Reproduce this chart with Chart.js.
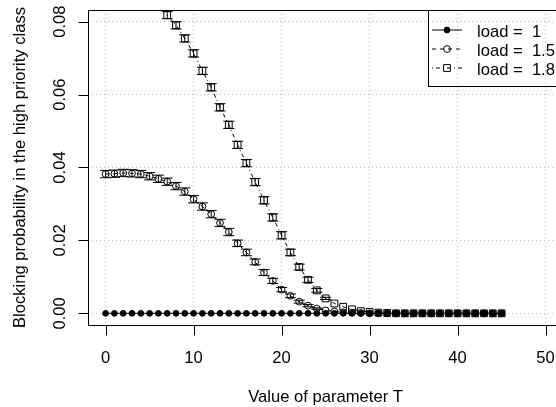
<!DOCTYPE html>
<html>
<head>
<meta charset="utf-8">
<script src="https://cdn.jsdelivr.net/npm/chart.js@4.4.1/dist/chart.umd.min.js"></script>
<style>
  html, body { margin: 0; padding: 0; background: #fff; overflow: hidden; }
  #wrap { width: 556px; height: 407px; overflow: hidden; }
</style>
</head>
<body>
<div id="wrap"><canvas id="chart" width="570" height="407"></canvas></div>
<script>
// values of parameter T
const T = [0, 1, 2, 3, 4, 5, 6, 7, 8, 9, 10, 11, 12, 13, 14, 15, 16, 17, 18, 19, 20, 21, 22,
  23, 24, 25, 26, 27, 28, 29, 30, 31, 32, 33, 34, 35, 36, 37, 38, 39, 40, 41, 42, 43, 44, 45];

// blocking probability, load = 1
const load1 = [0, 0, 0, 0, 0, 0, 0, 0, 0, 0, 0, 0, 0, 0, 0, 0, 0, 0, 0, 0, 0, 0, 0,
  0, 0, 0, 0, 0, 0, 0, 0, 0, 0, 0, 0, 0, 0, 0, 0, 0, 0, 0, 0, 0, 0, 0];

// load = 1.5
const load15 = [0.0382, 0.0383, 0.0385, 0.0384, 0.0382, 0.0376, 0.0369, 0.0361, 0.0349, 0.0334,
  0.0313, 0.0293, 0.0272, 0.0248, 0.0223, 0.0192, 0.0167, 0.0141, 0.0112, 0.0089,
  0.0065, 0.0048, 0.0032, 0.0021, 0.0013, 0.0008, 0.0005, 0.0003, 0.0002, 0.0001,
  0, 0, 0, 0, 0, 0, 0, 0, 0, 0, 0, 0, 0, 0, 0, 0];
const err15 = [0.0010, 0.0010, 0.0010, 0.0010, 0.0010, 0.0010, 0.0010, 0.0010, 0.0010, 0.0010,
  0.0010, 0.0010, 0.0010, 0.0010, 0.0010, 0.0009, 0.0009, 0.0008, 0.0008, 0.0007,
  0.0006, 0.0005, 0.0004, 0.0003, 0.0002, 0, 0, 0, 0, 0,
  0, 0, 0, 0, 0, 0, 0, 0, 0, 0, 0, 0, 0, 0, 0, 0];

// load = 1.8 (values for T < 7 are above the plotted range)
const load18 = [null, null, null, null, null, null, null, 0.0818, 0.0790, 0.0754,
  0.0713, 0.0665, 0.0620, 0.0565, 0.0517, 0.0462, 0.0412, 0.0360, 0.0310, 0.0263,
  0.0214, 0.0167, 0.0127, 0.0092, 0.0063, 0.0041, 0.0027, 0.0018, 0.0011, 0.0006,
  0.0004, 0.0002, 0.0001, 0, 0, 0, 0, 0, 0, 0, 0, 0, 0, 0, 0, 0];
const err18 = [null, null, null, null, null, null, null, 0.0010, 0.0010, 0.0010,
  0.0010, 0.0010, 0.0010, 0.0010, 0.0010, 0.0010, 0.0010, 0.0010, 0.0010, 0.0010,
  0.0010, 0.0009, 0.0008, 0.0007, 0.0005, 0.0003, 0, 0, 0, 0,
  0, 0, 0, 0, 0, 0, 0, 0, 0, 0, 0, 0, 0, 0, 0, 0];

const xTicks = [0, 10, 20, 30, 40, 50];
const yTicks = [0, 0.02, 0.04, 0.06, 0.08];
const seriesNames = ['load =  1', 'load =  1.5', 'load =  1.8'];

const FONT = '16.6px "Liberation Sans", Arial, Helvetica, sans-serif';
const CAP = 5.5; // demi-largeur des barres d'erreur

const pts = arr => T.map((t, i) => ({ x: t, y: arr[i] }));

const styles = [
  { dash: [], pointStyle: 'circle', radius: 2.9, fill: '#000' },
  { dash: [4, 4], pointStyle: 'circle', radius: 3.4, fill: 'rgba(0,0,0,0)' },
  { dash: [1, 3, 4, 3], pointStyle: 'rect', radius: 4.8, fill: 'rgba(0,0,0,0)' }
];

// barres d'erreur, axes a la R, legende
const rPlot = {
  id: 'rPlot',
  afterDatasetsDraw(chart) {
    const ctx = chart.ctx, xs = chart.scales.x, ys = chart.scales.y;
    ctx.save();
    ctx.strokeStyle = '#000';
    ctx.lineWidth = 1;
    [[load15, err15], [load18, err18]].forEach(([vals, errs]) => {
      vals.forEach((v, i) => {
        const e = errs[i];
        if (v == null || !e) return;
        const px = xs.getPixelForValue(T[i]);
        const y1 = ys.getPixelForValue(v - e), y2 = ys.getPixelForValue(v + e);
        ctx.beginPath();
        ctx.moveTo(px, y1); ctx.lineTo(px, y2);
        ctx.moveTo(px - CAP, y1); ctx.lineTo(px + CAP, y1);
        ctx.moveTo(px - CAP, y2); ctx.lineTo(px + CAP, y2);
        ctx.stroke();
      });
    });
    ctx.restore();
  },
  afterDraw(chart) {
    const ctx = chart.ctx, xs = chart.scales.x, ys = chart.scales.y;
    const a = chart.chartArea;
    ctx.save();
    ctx.strokeStyle = '#000';
    ctx.fillStyle = '#000';
    ctx.lineWidth = 1;

    // cadre
    ctx.strokeRect(Math.round(a.left) + 0.5, Math.round(a.top) + 0.5,
      Math.round(a.right - a.left), Math.round(a.bottom - a.top));

    // axe x
    const yb = Math.round(a.bottom) + 0.5;
    ctx.beginPath();
    ctx.moveTo(xs.getPixelForValue(xTicks[0]), yb);
    ctx.lineTo(xs.getPixelForValue(xTicks[xTicks.length - 1]), yb);
    xTicks.forEach(t => {
      const px = Math.round(xs.getPixelForValue(t)) + 0.5;
      ctx.moveTo(px, yb); ctx.lineTo(px, yb + 10);
    });
    ctx.stroke();
    ctx.font = FONT;
    ctx.textAlign = 'center';
    ctx.textBaseline = 'alphabetic';
    xTicks.forEach(t => ctx.fillText(String(t), xs.getPixelForValue(t), 362.6));
    ctx.fillText('Value of parameter T', (a.left + a.right) / 2, 401.5);

    // axe y
    const xl = Math.round(a.left) + 0.5;
    ctx.beginPath();
    ctx.moveTo(xl, ys.getPixelForValue(yTicks[0]));
    ctx.lineTo(xl, ys.getPixelForValue(yTicks[yTicks.length - 1]));
    yTicks.forEach(v => {
      const py = Math.round(ys.getPixelForValue(v)) + 0.5;
      ctx.moveTo(xl, py); ctx.lineTo(xl - 10, py);
    });
    ctx.stroke();
    yTicks.forEach(v => {
      ctx.save();
      ctx.translate(65, ys.getPixelForValue(v));
      ctx.rotate(-Math.PI / 2);
      ctx.fillText(v.toFixed(2), 0, 0);
      ctx.restore();
    });
    ctx.save();
    ctx.translate(24.5, (a.top + a.bottom) / 2);
    ctx.rotate(-Math.PI / 2);
    ctx.fillText('Blocking probability in the high priority class', 0, 0);
    ctx.restore();

    // legende (coin haut droit)
    const lx = 428.5, ly = Math.round(a.top) + 0.5;
    const rowH = 19;
    ctx.strokeRect(lx, ly, Math.round(a.right) - lx + 0.5, Math.round(rowH * 4 - 0.5));
    ctx.textAlign = 'left';
    seriesNames.forEach((name, i) => {
      const st = styles[i];
      const ry = a.top + rowH * (i + 1) + 1;
      ctx.save();
      ctx.setLineDash(st.dash);
      ctx.beginPath();
      ctx.moveTo(432, ry); ctx.lineTo(462, ry);
      ctx.stroke();
      ctx.restore();
      ctx.save();
      ctx.fillStyle = st.fill;
      ctx.strokeStyle = '#000';
      ctx.lineWidth = 1;
      Chart.helpers.drawPoint(ctx, { pointStyle: st.pointStyle, radius: st.radius, rotation: 0, borderWidth: 1 }, 447, ry);
      ctx.restore();
      ctx.fillText(name, 477, ry + 6.5);
    });
    ctx.restore();
  }
};

const datasets = [load1, load15, load18].map((arr, i) => ({
  label: seriesNames[i],
  data: pts(arr),
  borderColor: '#000',
  borderWidth: 1,
  borderDash: styles[i].dash,
  pointStyle: styles[i].pointStyle,
  pointRadius: styles[i].radius,
  pointBackgroundColor: styles[i].fill,
  pointBorderColor: '#000',
  pointBorderWidth: 1,
  tension: 0,
  spanGaps: false
}));

new Chart(document.getElementById('chart'), {
  type: 'line',
  data: { datasets },
  plugins: [rPlot],
  options: {
    responsive: false,
    animation: false,
    events: [],
    layout: { padding: { left: 0, right: 6.8, top: 10, bottom: 0 }, autoPadding: false },
    plugins: { legend: { display: false }, tooltip: { enabled: false } },
    scales: {
      x: {
        type: 'linear', min: -2, max: 52,
        afterFit(s) { s.height = 82; },
        ticks: { display: false, stepSize: 10, includeBounds: false },
        grid: { color: '#bdbdbd', lineWidth: 1, drawTicks: false },
        border: { display: false, dash: [1, 3] }
      },
      y: {
        type: 'linear', min: -0.0032, max: 0.0832,
        afterFit(s) { s.width = 88; },
        ticks: { display: false, stepSize: 0.02, includeBounds: false },
        grid: { color: '#bdbdbd', lineWidth: 1, drawTicks: false },
        border: { display: false, dash: [1, 3] }
      }
    }
  }
});
</script>
</body>
</html>
